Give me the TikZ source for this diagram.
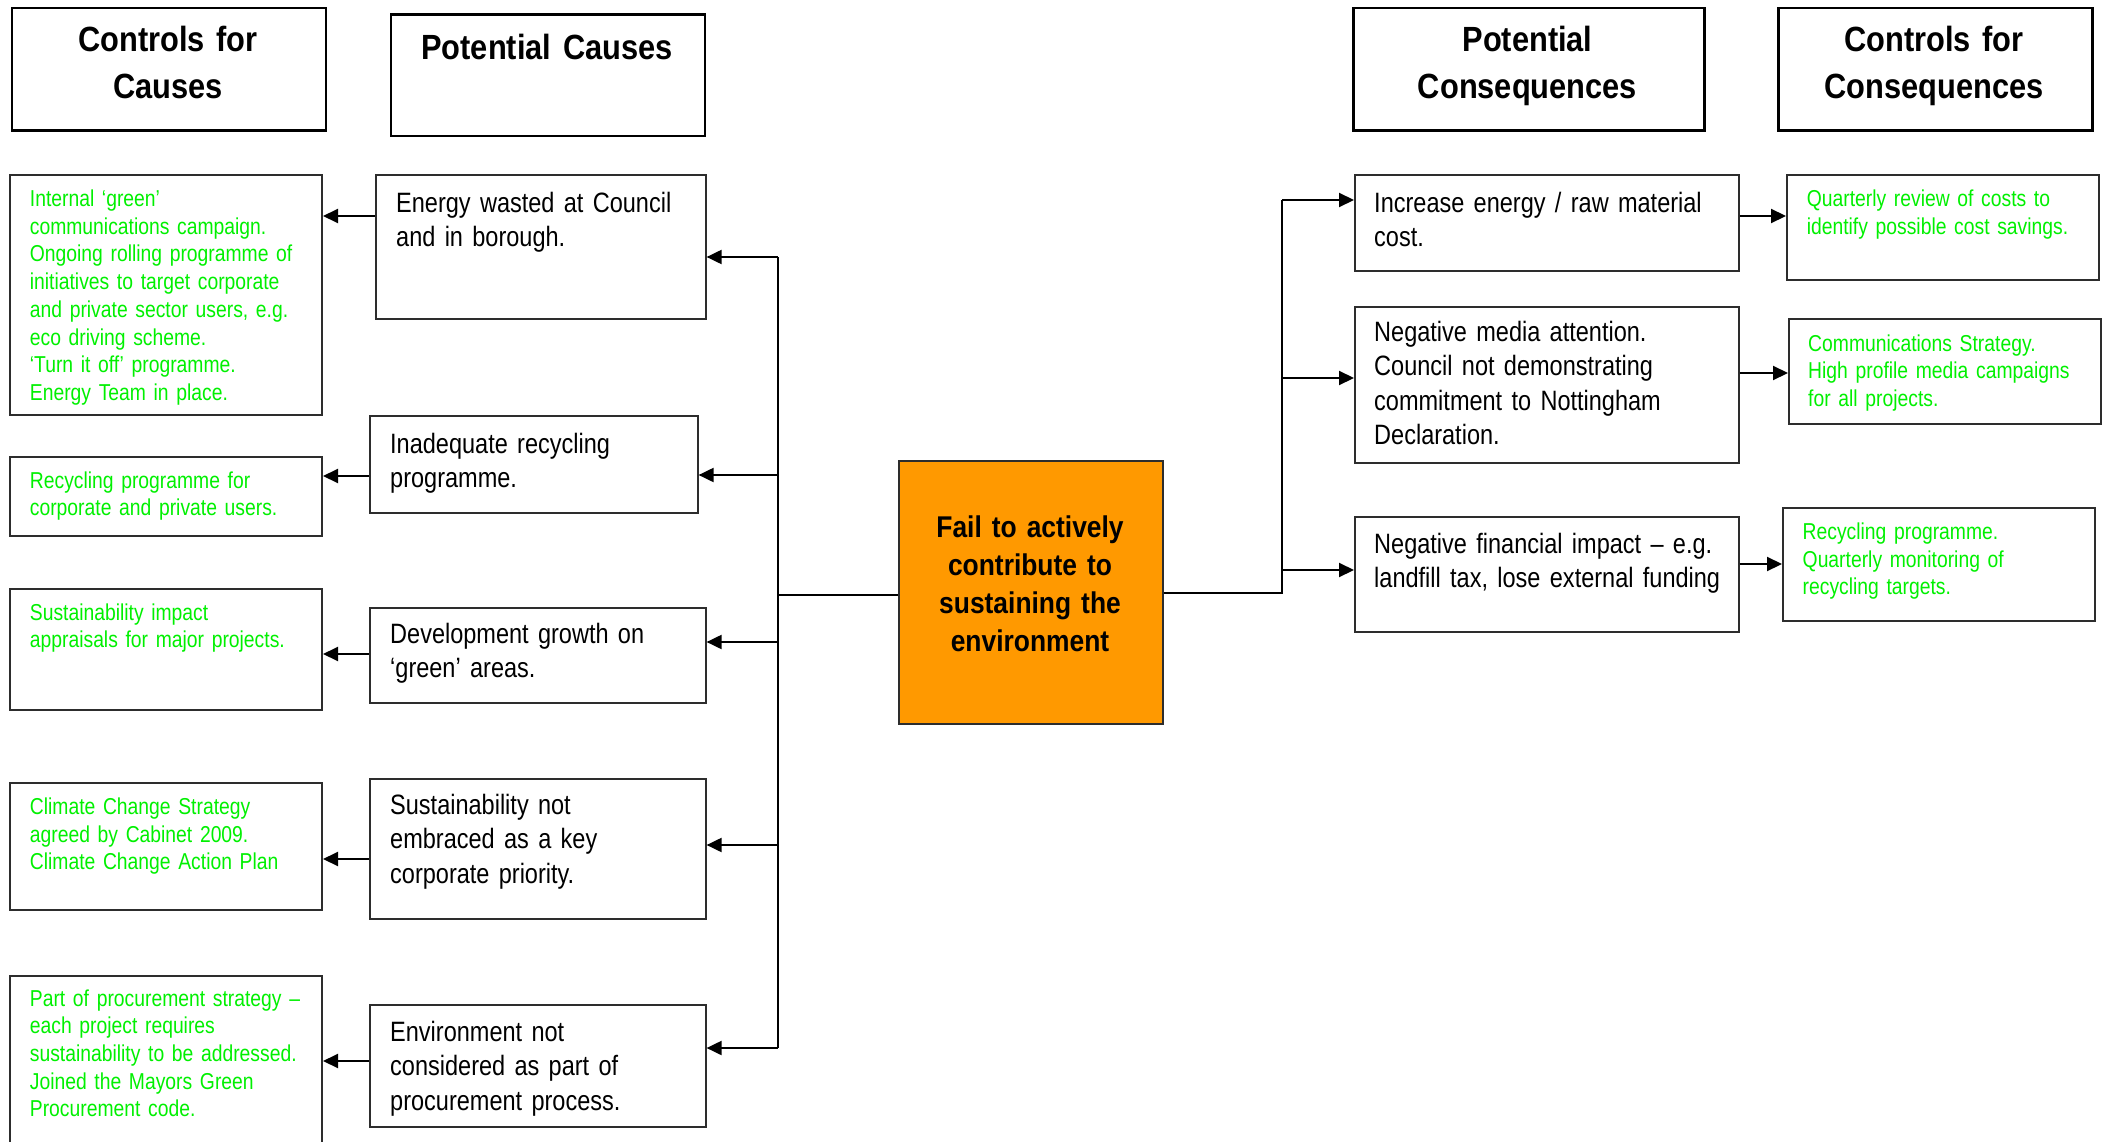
\documentclass[tikz,border=0pt]{standalone}
\usepackage{fontspec}
\setmainfont{Liberation Sans}[FakeStretch=0.84, WordSpace=0.82,
  BoldFeatures={FakeStretch=0.88, WordSpace=0.82}]
\usetikzlibrary{arrows.meta}
\definecolor{ctrlgreen}{RGB}{0,240,0}
\definecolor{riskorange}{RGB}{255,153,0}
\definecolor{edgegray}{RGB}{45,45,45}

\tikzset{
  hdr/.style={draw=black, line width=2.6pt, inner sep=0pt, anchor=north west},
  bx/.style={draw=edgegray, line width=1.6pt, inner sep=0pt, anchor=north west},
  riskbox/.style={draw=edgegray, line width=1.6pt, fill=riskorange, inner sep=0pt, anchor=north west},
  blk/.style={anchor=base west, inner sep=0pt, text width=430pt, align=left,
    font=\fontsize{28}{34.4}\selectfont},
  grn/.style={anchor=base west, inner sep=0pt, text width=330pt, align=left,
    text=ctrlgreen, font=\fontsize{23}{27.7}\selectfont},
  htxt/.style={anchor=base, inner sep=0pt, text width=340pt, align=center,
    font=\bfseries\fontsize{35}{47}\selectfont},
  risktxt/.style={anchor=base, inner sep=0pt, text width=260pt, align=center,
    font=\bfseries\fontsize{30}{38}\selectfont},
  ln/.style={draw=black, line width=2pt},
  arr/.style={ln, -{Triangle[length=15pt,width=14pt]}}
}

\begin{document}
\begin{tikzpicture}[x=1pt,y=-1pt]
\useasboundingbox (0,0) rectangle (2114,1142);
\clip (0,0) rectangle (2114,1142);
\fill[white] (0,0) rectangle (2114,1142);

% column headers
\node[hdr, minimum width=314pt, minimum height=122.7pt] (hcc) at (10.8,6.7) {};
\node[hdr, minimum width=314pt, minimum height=121.3pt] (hpc) at (389.6,13.5) {};
\node[hdr, minimum width=351pt, minimum height=122.7pt] (hpq) at (1352,6.7) {};
\node[hdr, minimum width=314pt, minimum height=122.7pt] (hcq) at (1777,6.7) {};
\node[htxt] (hcc-t) at (168,52) {Controls for\\Causes};
\node[htxt] (hpc-t) at (547,60) {Potential Causes};
\node[htxt] (hpq-t) at (1527.5,52) {Potential\\Consequences};
\node[htxt] (hcq-t) at (1934,52) {Controls for\\Consequences};

% controls for causes
\node[bx, minimum width=312pt, minimum height=240pt] (c1) at (9.4,174) {};
\node[bx, minimum width=312pt, minimum height=79pt]  (c2) at (9.4,456) {};
\node[bx, minimum width=312pt, minimum height=121pt] (c3) at (9.4,588) {};
\node[bx, minimum width=312pt, minimum height=127pt] (c4) at (9.4,782) {};
\node[bx, minimum width=312pt, minimum height=185pt] (c5) at (9.4,975) {};
\node[grn] (c1-t) at (29.7,206.5) {Internal ‘green’\\communications campaign.\\Ongoing rolling programme of\\initiatives to target corporate\\and private sector users, e.g.\\eco driving scheme.\\‘Turn it off’ programme.\\Energy Team in place.};
\node[grn] (c2-t) at (29.7,488) {Recycling programme for\\corporate and private users.};
\node[grn] (c3-t) at (29.7,620) {Sustainability impact\\appraisals for major projects.};
\node[grn] (c4-t) at (29.7,814.5) {Climate Change Strategy\\agreed by Cabinet 2009.\\Climate Change Action Plan};
\node[grn] (c5-t) at (29.7,1006) {Part of procurement strategy –\\each project requires\\sustainability to be addressed.\\Joined the Mayors Green\\Procurement code.};

% potential causes
\node[bx, minimum width=330pt, minimum height=144pt] (k1) at (375,174) {};
\node[bx, minimum width=328pt, minimum height=97pt]  (k2) at (369,415) {};
\node[bx, minimum width=336pt, minimum height=95pt]  (k3) at (369,607) {};
\node[bx, minimum width=336pt, minimum height=140pt] (k4) at (369,778) {};
\node[bx, minimum width=336pt, minimum height=122pt] (k5) at (369,1004) {};
\node[blk] (k1-t) at (396,212) {Energy wasted at Council\\and in borough.};
\node[blk] (k2-t) at (390,453) {Inadequate recycling\\programme.};
\node[blk] (k3-t) at (390,643) {Development growth on\\‘green’ areas.};
\node[blk] (k4-t) at (390,814.5) {Sustainability not\\embraced as a key\\corporate priority.};
\node[blk] (k5-t) at (390,1041.5) {Environment not\\considered as part of\\procurement process.};

% central risk
\node[riskbox, minimum width=264pt, minimum height=263pt] (risk) at (898,460) {};
\node[risktxt] (risk-t) at (1030,537.5) {Fail to actively\\contribute to\\sustaining the\\environment};

% potential consequences
\node[bx, minimum width=384pt, minimum height=96pt]  (q1) at (1354,174) {};
\node[bx, minimum width=384pt, minimum height=156pt] (q2) at (1354,306) {};
\node[bx, minimum width=384pt, minimum height=115pt] (q3) at (1354,516) {};
\node[blk] (q1-t) at (1374,212) {Increase energy / raw material\\cost.};
\node[blk] (q2-t) at (1374,341.5) {Negative media attention.\\Council not demonstrating\\commitment to Nottingham\\Declaration.};
\node[blk] (q3-t) at (1374,553.5) {Negative financial impact – e.g.\\landfill tax, lose external funding};

% controls for consequences
\node[bx, minimum width=312pt, minimum height=105pt] (r1) at (1786,174) {};
\node[bx, minimum width=312pt, minimum height=105pt] (r2) at (1788,318) {};
\node[bx, minimum width=312pt, minimum height=113pt] (r3) at (1782,507) {};
\node[grn] (r1-t) at (1806.6,206.5) {Quarterly review of costs to\\identify possible cost savings.};
\node[grn] (r2-t) at (1808,351) {Communications Strategy.\\High profile media campaigns\\for all projects.};
\node[grn] (r3-t) at (1802.5,539.5) {Recycling programme.\\Quarterly monitoring of\\recycling targets.};

% branch points of the two trees
\coordinate (busL) at (778,595);
\coordinate (busR) at (1282,593);

% causes tree
\draw[ln] (risk.west |- busL) -- (busL);
\draw[ln] (busL |- 0,257) -- (busL |- 0,1048);
\draw[arr] (busL |- 0,257)  -- (k1.east |- 0,257);
\draw[arr] (busL |- 0,475)  -- (k2.east |- 0,475);
\draw[arr] (busL |- 0,642)  -- (k3.east |- 0,642);
\draw[arr] (busL |- 0,845)  -- (k4.east |- 0,845);
\draw[arr] (busL |- 0,1048) -- (k5.east |- 0,1048);

% cause -> control
\draw[arr] (k1.west |- 0,216)  -- (c1.east |- 0,216);
\draw[arr] (k2.west |- 0,476)  -- (c2.east |- 0,476);
\draw[arr] (k3.west |- 0,654)  -- (c3.east |- 0,654);
\draw[arr] (k4.west |- 0,859)  -- (c4.east |- 0,859);
\draw[arr] (k5.west |- 0,1061) -- (c5.east |- 0,1061);

% consequences tree
\draw[ln] (risk.east |- busR) -- (busR) -- (busR |- 0,200);
\draw[arr] (busR |- 0,200) -- (q1.west |- 0,200);
\draw[arr] (busR |- 0,378) -- (q2.west |- 0,378);
\draw[arr] (busR |- 0,570) -- (q3.west |- 0,570);

% consequence -> control
\draw[arr] (q1.east |- 0,216) -- (r1.west |- 0,216);
\draw[arr] (q2.east |- 0,373) -- (r2.west |- 0,373);
\draw[arr] (q3.east |- 0,564) -- (r3.west |- 0,564);
\end{tikzpicture}
\end{document}
